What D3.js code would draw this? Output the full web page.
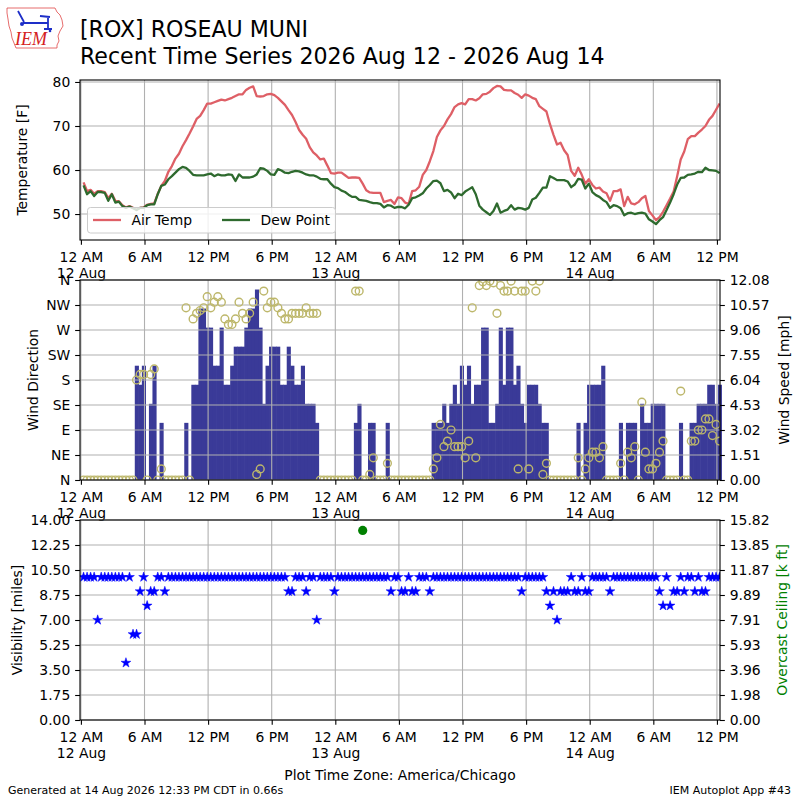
<!DOCTYPE html>
<html lang="en">
<head>
<meta charset="UTF-8" />
<title>[ROX] ROSEAU MUNI - Recent Time Series</title>
<script src="https://cdn.jsdelivr.net/npm/d3@7/dist/d3.min.js"></script>
<style>
    body { margin: 0; padding: 0; background-color: #fff; }
    text { font-family: "DejaVu Sans", sans-serif; fill: #000; }
    .axis text { font-size: 13.9px; font-family: "DejaVu Sans", sans-serif; fill: #000; }
    .axis line { stroke: #000; stroke-width: 1.1px; }
    .grid line { stroke: #b0b0b0; stroke-width: 1.1px; }
    .frame { fill: none; stroke: #000; stroke-width: 1.1px; }
    .label { font-size: 13.9px; }
</style>
</head>
<body>
<svg width="800" height="800"></svg>
<script>
// one observation every 20 minutes, first one 12 Aug 00:15
var tmpf = [57.2, 55.2, 55.5, 54.6, 55.2, 55.2, 55.0, 53.6, 54.6, 53.0,
    52.9, 52.0, 51.5, 51.8, 51.4, 51.0, 51.4, 51.5, 52.1, 52.3,
    52.4, 54.6, 56.4, 57.5, 59.6, 60.9, 62.6, 63.7, 65.4, 66.8,
    68.3, 69.9, 71.6, 72.3, 73.6, 75.1, 75.1, 75.4, 75.7, 76.0,
    75.8, 76.1, 76.4, 76.8, 77.2, 77.2, 78.2, 78.7, 79.0, 76.8,
    76.7, 76.8, 77.2, 77.3, 77.0, 76.4, 75.6, 74.8, 73.6, 72.5,
    70.9, 69.1, 68.0, 67.1, 65.2, 64.0, 63.3, 62.4, 62.6, 61.0,
    59.3, 59.2, 59.4, 59.4, 58.8, 58.2, 58.3, 58.3, 58.2, 56.9,
    55.4, 54.9, 54.8, 54.8, 54.8, 52.7, 53.0, 53.2, 52.3, 53.8,
    53.6, 52.6, 52.3, 55.2, 55.4, 56.2, 58.9, 60.0, 62.0, 64.3,
    67.5, 69.0, 70.0, 71.5, 72.7, 74.3, 74.9, 75.2, 74.9, 76.1,
    76.1, 75.8, 76.3, 77.2, 77.3, 77.8, 78.6, 79.1, 79.0, 78.2,
    78.1, 78.1, 77.5, 77.1, 76.4, 77.2, 76.9, 76.4, 76.1, 74.5,
    73.9, 73.3, 70.4, 68.0, 65.8, 66.2, 64.5, 63.4, 59.8, 58.7,
    60.5, 58.9, 56.9, 57.9, 56.6, 55.8, 56.0, 55.1, 54.7, 53.0,
    55.2, 55.2, 55.6, 51.8, 53.9, 52.4, 52.2, 52.7, 53.6, 54.1,
    50.7, 49.7, 48.6, 49.3, 50.5, 52.0, 53.5, 55.1, 58.6, 62.4,
    64.2, 67.0, 67.7, 67.7, 68.5, 69.2, 70.0, 71.4, 72.3, 73.7,
    75.1];
var dwpf = [56.5, 54.5, 55.2, 54.1, 55.0, 55.0, 54.8, 53.0, 54.5, 52.6,
    52.8, 51.8, 51.4, 51.7, 51.3, 50.9, 51.4, 51.4, 52.0, 52.2,
    52.2, 54.5, 56.4, 56.7, 57.9, 58.6, 59.4, 60.2, 60.7, 60.5,
    59.8, 58.9, 58.8, 58.8, 58.8, 59.0, 59.2, 58.6, 59.0, 58.8,
    58.8, 59.0, 58.9, 57.5, 59.0, 58.3, 58.3, 58.3, 58.5, 59.0,
    60.4, 60.3, 59.8, 59.0, 58.9, 60.2, 59.9, 59.4, 59.3, 59.6,
    59.8, 59.7, 59.4, 59.0, 58.8, 58.8, 58.5, 58.0, 57.9, 57.9,
    56.9, 56.1, 55.9, 55.3, 55.0, 54.4, 53.9, 53.9, 53.2, 53.1,
    53.0, 52.7, 52.5, 52.5, 52.3, 51.5, 52.0, 51.9, 51.4, 51.6,
    51.6, 51.3, 52.1, 53.6, 53.8, 54.2, 54.7, 55.8, 56.6, 57.5,
    57.6, 57.0, 55.2, 55.5, 54.9, 53.6, 54.6, 54.3, 55.1, 55.6,
    56.1, 54.5, 51.9, 51.0, 50.4, 49.8, 50.7, 52.4, 50.3, 50.7,
    51.0, 52.0, 51.0, 51.4, 51.3, 51.0, 51.4, 53.3, 53.7, 54.8,
    56.0, 56.0, 58.6, 58.2, 57.7, 57.7, 57.7, 57.4, 56.1, 56.7,
    58.0, 57.8, 55.8, 56.9, 55.0, 54.3, 53.9, 53.2, 52.7, 51.4,
    52.0, 51.8, 51.3, 49.7, 50.2, 50.3, 50.0, 50.2, 50.3, 50.1,
    48.8, 48.3, 47.7, 48.6, 49.3, 50.9, 52.6, 54.5, 56.7, 58.2,
    58.3, 58.9, 59.0, 59.2, 59.6, 59.5, 60.5, 60.0, 59.9, 59.8,
    59.3];
// wind speed [knots] and direction [deg]
var sknt = [0, 0, 0, 0, 0, 0, 0, 0, 0, 0,
    0, 0, 0, 0, 0, 6, 5, 6, 0, 4,
    6, 0, 3, 0, 0, 0, 0, 0, 0, 3,
    0, 5, 5, 9, 9, 8, 8, 6, 6, 8,
    5, 5, 6, 7, 7, 7, 8, 9, 9, 10,
    8, 4, 6, 7, 7, 7, 5, 5, 7, 6,
    5, 5, 6, 4, 4, 4, 3, 0, 0, 0,
    0, 0, 0, 0, 0, 0, 0, 3, 4, 0,
    0, 3, 3, 0, 0, 0, 3, 0, 0, 0,
    0, 0, 0, 0, 0, 0, 0, 0, 0, 3,
    3, 3, 4, 3, 4, 5, 4, 6, 5, 6,
    4, 5, 5, 8, 8, 3, 3, 4, 8, 5,
    8, 8, 5, 6, 4, 3, 5, 5, 5, 4,
    3, 3, 0, 0, 0, 0, 0, 0, 0, 0,
    3, 0, 3, 5, 5, 5, 5, 6, 0, 0,
    0, 0, 3, 0, 3, 3, 3, 0, 4, 3,
    3, 4, 4, 4, 4, 0, 0, 0, 0, 3,
    0, 0, 3, 3, 4, 4, 4, 5, 5, 4,
    5];
var drct = [0, 0, 0, 0, 0, 0, 0, 0, 0, 0,
    0, 0, 0, 0, 0, 180, 190, 190, 0, 190,
    200, 0, 20, 0, 0, 0, 0, 0, 0, 310,
    0, 290, 300, 305, 310, 330, 310, 320, 330, 320,
    290, 280, 280, 290, 320, 300, 290, 300, 320, 10,
    20, 340, 310, 320, 320, 310, 300, 290, 290, 300,
    300, 300, 300, 310, 300, 300, 300, 0, 0, 0,
    0, 0, 0, 0, 0, 0, 0, 340, 340, 0,
    0, 10, 40, 0, 0, 0, 30, 0, 0, 0,
    0, 0, 0, 0, 0, 0, 0, 0, 0, 20,
    40, 100, 60, 70, 90, 60, 60, 60, 40, 70,
    310, 40, 350, 357, 350, 358, 355, 300, 350, 340,
    340, 358, 340, 20, 340, 340, 20, 358, 340, 358,
    10, 30, 0, 0, 0, 0, 0, 0, 0, 0,
    40, 0, 20, 40, 50, 50, 40, 60, 0, 0,
    0, 0, 30, 0, 50, 40, 60, 0, 140, 50,
    20, 20, 30, 50, 70, 0, 0, 0, 0, 160,
    0, 0, 70, 70, 90, 90, 110, 110, 80, 100,
    70];
// visibility [miles]
var vsby = [10, 10, 10, 10, 7, 10, 10, 10, 10, 10,
    10, 10, 4, 10, 6, 6, 9, 10, 8, 9,
    9, 10, 10, 9, 10, 10, 10, 10, 10, 10,
    10, 10, 10, 10, 10, 10, 10, 10, 10, 10,
    10, 10, 10, 10, 10, 10, 10, 10, 10, 10,
    10, 10, 10, 10, 10, 10, 10, 10, 9, 9,
    10, 10, 10, 9, 10, 10, 7, 10, 10, 10,
    10, 9, 10, 10, 10, 10, 10, 10, 10, 10,
    10, 10, 10, 10, 10, 10, 10, 9, 10, 10,
    9, 9, 10, 9, 9, 10, 10, 10, 9, 10,
    10, 10, 10, 10, 10, 10, 10, 10, 10, 10,
    10, 10, 10, 10, 10, 10, 10, 10, 10, 10,
    10, 10, 10, 10, 9, 10, 10, 10, 10, 10,
    10, 9, 8, 9, 7, 9, 9, 9, 10, 9,
    9, 10, 9, 9, 10, 10, 10, 10, 10, 9,
    10, 10, 10, 10, 10, 10, 10, 10, 10, 10,
    10, 10, 10, 9, 8, 10, 8, 9, 9, 10,
    9, 10, 10, 9, 10, 9, 9, 10, 10, 10,
    10];
// overcast ceiling [k ft]
var ceilIndex = [79];
var ceilKft = [15.0];

var dirLabels = ['N', 'NE', 'E', 'SE', 'S', 'SW', 'W', 'NW', 'N'];
var tempTicks = [50, 60, 70, 80];

var svg = d3.select('svg');
var left = 80, right = 720;
var TICK = 4.86;
var day0 = Date.UTC(2026, 7, 12);
var HOUR = 3600e3;
var times = tmpf.map(function(d, i) { return new Date(day0 + (15 + 20 * i) * 60e3); });

var x = d3.scaleUtc()
    .domain([new Date(day0 - 0.085 * HOUR), new Date(day0 + 60.29 * HOUR)])
    .range([left, right]);
var xTicks = x.ticks(d3.utcHour.every(6));
var fmtHour = d3.utcFormat('%-I %p'),
    fmtDay = d3.utcFormat('%-d %b');

function clip(id, top, bottom) {
    svg.append('clipPath').attr('id', id)
        .append('rect').attr('x', left).attr('y', top)
        .attr('width', right - left).attr('height', bottom - top);
}

function grid(top, bottom, yPos) {
    var g = svg.append('g').attr('class', 'grid');
    g.selectAll('line.v').data(xTicks).join('line').attr('class', 'v')
        .attr('x1', d => x(d)).attr('x2', d => x(d))
        .attr('y1', top).attr('y2', bottom);
    g.selectAll('line.h').data(yPos).join('line').attr('class', 'h')
        .attr('x1', left).attr('x2', right)
        .attr('y1', d => d).attr('y2', d => d);
}

function frame(top, bottom) {
    svg.append('rect').attr('class', 'frame')
        .attr('x', left).attr('y', top)
        .attr('width', right - left).attr('height', bottom - top);
}

function timeAxis(bottom) {
    var ax = svg.append('g').attr('class', 'axis')
        .attr('transform', 'translate(0,' + bottom + ')')
        .call(d3.axisBottom(x).tickValues(xTicks).tickSize(TICK).tickPadding(TICK).tickFormat(fmtHour));
    ax.select('.domain').remove();
    ax.selectAll('.tick text').attr('dy', '0.86em')
        .filter(d => d.getUTCHours() === 0)
        .append('tspan').attr('x', 0).attr('dy', '1.17em').text(fmtDay);
}

function yAxis(axis, xPos) {
    var ax = svg.append('g').attr('class', 'axis')
        .attr('transform', 'translate(' + xPos + ',0)')
        .call(axis.tickSize(TICK).tickPadding(TICK));
    ax.select('.domain').remove();
    return ax;
}

function vLabel(txt, xPos, yPos, color) {
    svg.append('text').attr('class', 'label')
        .attr('transform', 'translate(' + xPos + ',' + yPos + ') rotate(-90)')
        .attr('text-anchor', 'middle').attr('dy', '0.35em')
        .style('fill', color || '#000')
        .text(txt);
}

// ---------- logo and title ----------
var logo = svg.append('g');
logo.append('path')
    .attr('d', 'M7,8 L55,8 L57,12 L60,15 L62,20 L63,26 L60,31 L58,36 L59,41 L57,45 L57,48 L16,48 L14,43 L12,38 L11,32 L9,26 L8,19 L7,13 Z')
    .attr('fill', 'none').attr('stroke', '#e04848').attr('stroke-width', 0.8);
logo.append('path').attr('d', 'M18,11 L24,22 M23,23 L48,23 M40,16 L50,17 M48,18 L48,29 M44,29 L52,29')
    .attr('fill', 'none').attr('stroke', '#1e2fc8').attr('stroke-width', 1.8);
logo.append('circle').attr('cx', 22).attr('cy', 24).attr('r', 2).attr('fill', '#1e2fc8');
logo.append('circle').attr('cx', 50).attr('cy', 31).attr('r', 1.3).attr('fill', '#1e2fc8');
logo.append('text').attr('x', 15).attr('y', 45)
    .style('font-family', '"Liberation Serif", serif').style('font-style', 'italic')
    .style('font-size', '18px').style('fill', '#d42020')
    .text('IEM');

svg.append('text').attr('x', 80).attr('y', 37.3).style('font-size', '22.1px')
    .text('[ROX] ROSEAU MUNI');
svg.append('text').attr('x', 80).attr('y', 64).style('font-size', '22.1px')
    .text('Recent Time Series 2026 Aug 12 - 2026 Aug 14');

// ---------- panel 1: temperature ----------
var p1 = {top: 80, bottom: 240};
var yT = d3.scaleLinear().domain([44.1, 80.45]).range([p1.bottom, p1.top]);
clip('clip1', p1.top, p1.bottom);
grid(p1.top, p1.bottom, tempTicks.map(yT));

var tLine = d3.line().x((d, i) => x(times[i])).y(d => yT(d));
var lines = svg.append('g').attr('clip-path', 'url(#clip1)');
lines.append('path').datum(tmpf).attr('d', tLine)
    .attr('fill', 'none').attr('stroke', '#de5f66').attr('stroke-width', 2.3).attr('stroke-linejoin', 'round');
lines.append('path').datum(dwpf).attr('d', tLine)
    .attr('fill', 'none').attr('stroke', '#2e6a2e').attr('stroke-width', 2.3).attr('stroke-linejoin', 'round');

var legend = svg.append('g');
legend.append('rect').attr('x', 87.5).attr('y', 207.5).attr('width', 248).attr('height', 25.5)
    .attr('rx', 3).attr('fill', '#fff').attr('fill-opacity', 0.8)
    .attr('stroke', '#cccccc').attr('stroke-width', 1);
legend.append('line').attr('x1', 93).attr('x2', 121).attr('y1', 220).attr('y2', 220)
    .attr('stroke', '#de5f66').attr('stroke-width', 2.3);
legend.append('text').attr('x', 131.5).attr('y', 224.5).style('font-size', '13.9px').text('Air Temp');
legend.append('line').attr('x1', 222).attr('x2', 250).attr('y1', 220).attr('y2', 220)
    .attr('stroke', '#2e6a2e').attr('stroke-width', 2.3);
legend.append('text').attr('x', 260.5).attr('y', 224.5).style('font-size', '13.9px').text('Dew Point');

frame(p1.top, p1.bottom);
yAxis(d3.axisLeft(yT).tickValues(tempTicks), left);
timeAxis(p1.bottom);
vLabel('Temperature [F]', 22, 160);

// ---------- panel 2: wind ----------
var p2 = {top: 280, bottom: 480};
var maxMph = 10.5 * 1.15078;
var yD = d3.scaleLinear().domain([0, 360]).range([p2.bottom, p2.top]);
var yS = d3.scaleLinear().domain([0, maxMph]).range([p2.bottom, p2.top]);
var dirTicks = d3.range(0, 361, 45);
var spdTicks = d3.range(9).map(k => k * maxMph / 8);
clip('clip2', p2.top, p2.bottom);

// bars overlap a touch so neighbours do not show seams
var halfSlot = 10 * 60e3;
svg.append('g').selectAll('rect').data(sknt).join('rect')
    .attr('x', (d, i) => x(new Date(+times[i] - halfSlot)))
    .attr('width', (d, i) => x(new Date(+times[i] + halfSlot)) - x(new Date(+times[i] - halfSlot)) + 0.6)
    .attr('y', d => yS(d * 1.15078))
    .attr('height', d => p2.bottom - yS(d * 1.15078))
    .attr('fill', '#3a3a98');

grid(p2.top, p2.bottom, dirTicks.map(yD));

svg.append('g').attr('clip-path', 'url(#clip2)')
    .selectAll('circle').data(drct).join('circle')
    .attr('cx', (d, i) => x(times[i]))
    .attr('cy', d => yD(d))
    .attr('r', 3.9)
    .attr('fill', 'none').attr('stroke', '#bdb76b').attr('stroke-width', 1.4);

frame(p2.top, p2.bottom);
yAxis(d3.axisLeft(yD).tickValues(dirTicks).tickFormat((d, i) => dirLabels[i]), left);
yAxis(d3.axisRight(yS).tickValues(spdTicks).tickFormat(d => d.toFixed(2)), right);
timeAxis(p2.bottom);
vLabel('Wind Direction', 33, 380);
vLabel('Wind Speed [mph]', 784, 380);

// ---------- panel 3: visibility and ceiling ----------
var p3 = {top: 520, bottom: 720};
var yV = d3.scaleLinear().domain([0, 14]).range([p3.bottom, p3.top]);
var maxCeil = 15.824;
var yC = d3.scaleLinear().domain([0, maxCeil]).range([p3.bottom, p3.top]);
var visTicks = d3.range(9).map(k => k * 1.75);
var ceilTicks = d3.range(9).map(k => k * maxCeil / 8);
clip('clip3', p3.top, p3.bottom);
grid(p3.top, p3.bottom, visTicks.map(yV));

var star = d3.symbol().type(d3.symbolStar).size(30);
var marks = svg.append('g').attr('clip-path', 'url(#clip3)');
marks.selectAll('path.vis').data(vsby).join('path').attr('class', 'vis')
    .attr('transform', (d, i) => 'translate(' + x(times[i]) + ',' + yV(d) + ')')
    .attr('d', star)
    .attr('fill', '#0000ff').attr('stroke', '#0000ff').attr('stroke-width', 0.5);
marks.selectAll('circle.ceil').data(ceilKft).join('circle').attr('class', 'ceil')
    .attr('cx', (d, i) => x(times[ceilIndex[i]]))
    .attr('cy', d => yC(d))
    .attr('r', 4.6)
    .attr('fill', '#008000');

frame(p3.top, p3.bottom);
yAxis(d3.axisLeft(yV).tickValues(visTicks).tickFormat(d => d.toFixed(2)), left);
yAxis(d3.axisRight(yC).tickValues(ceilTicks).tickFormat(d => d.toFixed(2)), right);
timeAxis(p3.bottom);
vLabel('Visibility [miles]', 17.5, 620);
vLabel('Overcast Ceiling [k ft]', 782, 620, '#008000');

// ---------- footer ----------
svg.append('text').attr('x', 400).attr('y', 780).attr('text-anchor', 'middle')
    .style('font-size', '13.9px').text('Plot Time Zone: America/Chicago');
svg.append('text').attr('x', 8).attr('y', 793.5).style('font-size', '11px')
    .text('Generated at 14 Aug 2026 12:33 PM CDT in 0.66s');
svg.append('text').attr('x', 791).attr('y', 793.5).attr('text-anchor', 'end').style('font-size', '11px')
    .text('IEM Autoplot App #43');
</script>
</body>
</html>
